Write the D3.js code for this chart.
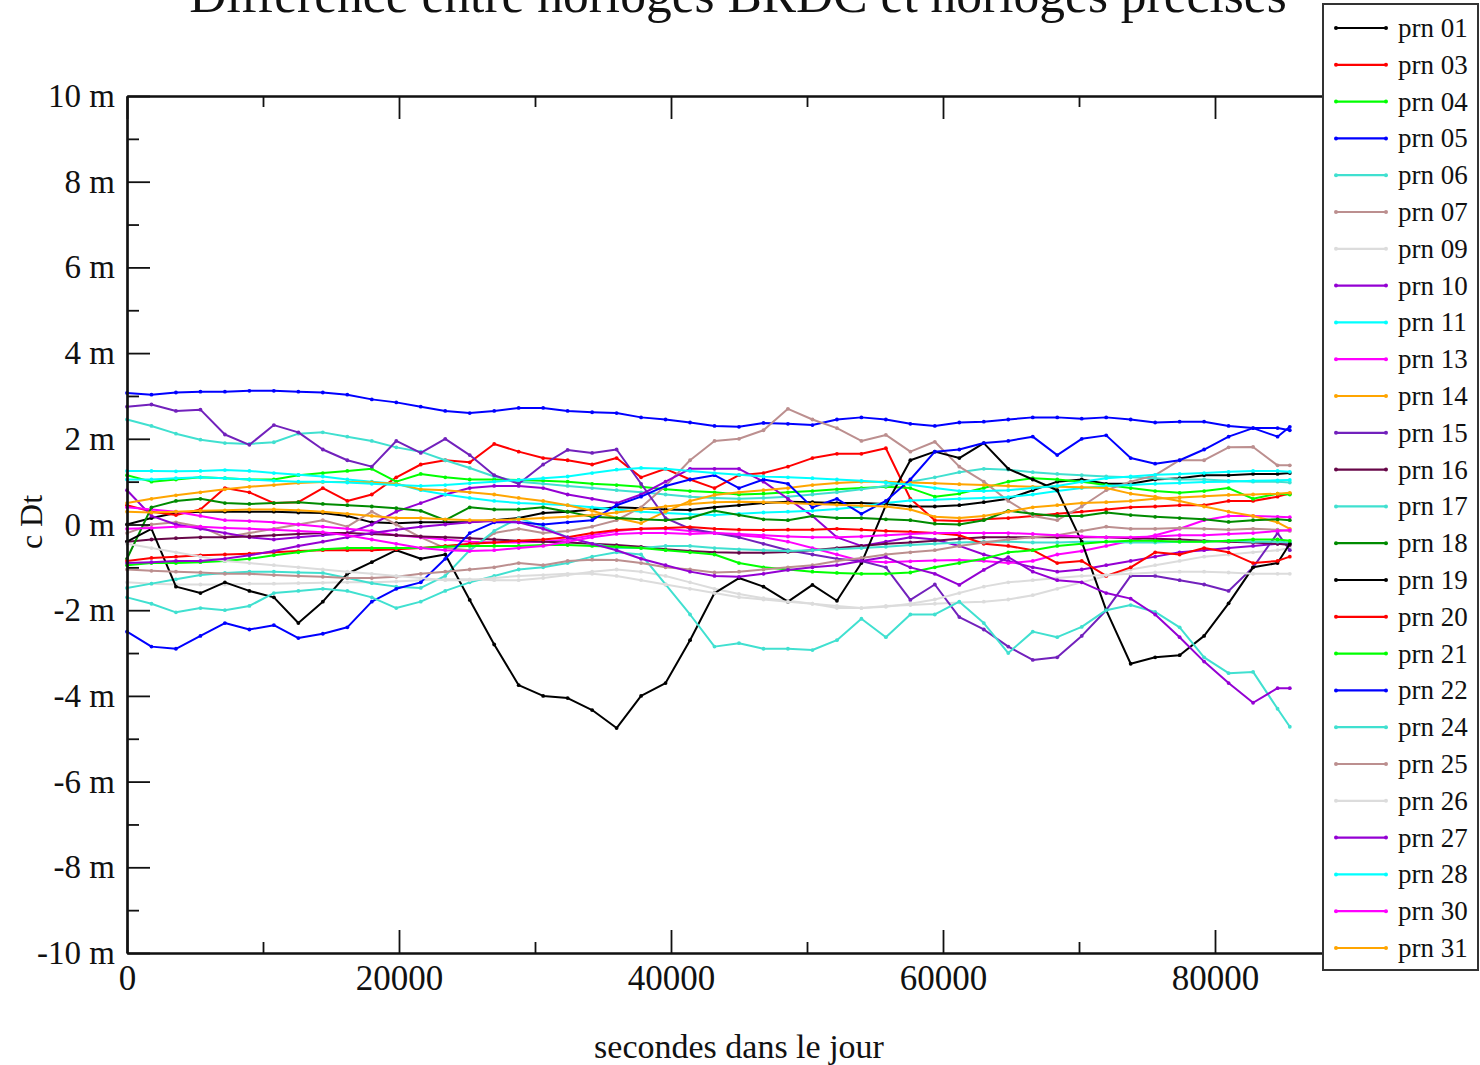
<!DOCTYPE html>
<html>
<head>
<meta charset="utf-8">
<script src="https://cdn.jsdelivr.net/npm/d3@7"></script>
<style>
  html, body { margin: 0; padding: 0; background: #fff; }
  svg { display: block; }
  text { font-family: "Liberation Serif", "Times New Roman", serif; fill: #111; }
</style>
</head>
<body>
<svg id="chart" width="1480" height="1065"></svg>
<script>
// Epochs (seconds of day), one sample every 30 minutes, last epoch at 23:45
const epochs = d3.range(0, 86400, 1800).concat([85500]);

// c·Δt (metres) per satellite, broadcast clock minus precise clock
const prn01 = [0.00, 0.15, 0.27, 0.30, 0.30, 0.30, 0.30, 0.28, 0.27, 0.20, 0.05, 0.03, 0.05, 0.05, 0.06, 0.10, 0.15, 0.27, 0.30, 0.35, 0.40, 0.38, 0.35, 0.34, 0.40, 0.45, 0.50, 0.53, 0.52, 0.50, 0.50, 0.48, 0.42, 0.42, 0.45, 0.52, 0.60, 0.80, 1.00, 1.05, 0.95, 0.95, 1.05, 1.08, 1.15, 1.15, 1.18, 1.18, 1.20];
const prn03 = [0.45, 0.30, 0.22, 0.35, 0.85, 0.75, 0.50, 0.52, 0.85, 0.55, 0.70, 1.10, 1.40, 1.50, 1.45, 1.88, 1.70, 1.55, 1.50, 1.40, 1.55, 1.10, 1.30, 1.05, 0.85, 1.15, 1.20, 1.35, 1.55, 1.65, 1.65, 1.78, 0.60, 0.10, 0.08, 0.12, 0.15, 0.20, 0.25, 0.30, 0.35, 0.40, 0.42, 0.45, 0.45, 0.55, 0.55, 0.65, 0.72];
const prn04 = [1.15, 1.00, 1.05, 1.10, 1.08, 1.05, 1.05, 1.15, 1.20, 1.25, 1.30, 1.00, 1.18, 1.10, 1.05, 1.05, 1.04, 1.02, 1.00, 0.95, 0.92, 0.88, 0.82, 0.78, 0.75, 0.70, 0.72, 0.75, 0.78, 0.82, 0.85, 0.88, 0.85, 0.65, 0.72, 0.85, 1.00, 1.08, 1.05, 1.00, 0.92, 0.85, 0.78, 0.74, 0.78, 0.85, 0.60, 0.72, 0.70];
const prn05 = [3.07, 3.03, 3.08, 3.10, 3.10, 3.12, 3.12, 3.10, 3.08, 3.03, 2.92, 2.85, 2.75, 2.65, 2.60, 2.65, 2.72, 2.72, 2.65, 2.62, 2.60, 2.50, 2.45, 2.38, 2.30, 2.28, 2.37, 2.35, 2.32, 2.45, 2.50, 2.45, 2.35, 2.30, 2.38, 2.40, 2.45, 2.50, 2.50, 2.47, 2.50, 2.45, 2.38, 2.40, 2.40, 2.30, 2.25, 2.25, 2.20];
const prn06 = [2.45, 2.30, 2.12, 1.98, 1.90, 1.88, 1.92, 2.12, 2.15, 2.05, 1.95, 1.80, 1.70, 1.50, 1.32, 1.12, 1.00, 0.95, 0.90, 0.85, 0.80, 0.75, 0.70, 0.65, 0.62, 0.60, 0.62, 0.65, 0.70, 0.75, 0.82, 0.90, 1.00, 1.10, 1.22, 1.30, 1.28, 1.22, 1.18, 1.15, 1.12, 1.10, 1.08, 1.05, 1.05, 1.02, 1.00, 1.00, 0.98];
const prn07 = [-0.20, 0.00, 0.05, -0.05, -0.30, -0.20, -0.10, 0.00, 0.10, -0.05, 0.30, 0.00, -0.30, -0.55, -0.60, -0.20, -0.10, -0.20, -0.15, -0.05, 0.10, 0.40, 0.90, 1.50, 1.95, 2.00, 2.20, 2.70, 2.45, 2.25, 1.95, 2.09, 1.70, 1.93, 1.35, 1.00, 0.55, 0.20, 0.10, 0.42, 0.80, 1.00, 1.15, 1.50, 1.50, 1.80, 1.81, 1.38, 1.38];
const prn09 = [-1.35, -1.38, -1.40, -1.40, -1.40, -1.38, -1.38, -1.37, -1.36, -1.35, -1.35, -1.33, -1.30, -1.28, -1.28, -1.30, -1.30, -1.25, -1.18, -1.10, -1.05, -1.10, -1.20, -1.35, -1.50, -1.62, -1.72, -1.78, -1.85, -1.95, -1.95, -1.90, -1.88, -1.85, -1.82, -1.80, -1.75, -1.65, -1.50, -1.35, -1.20, -1.05, -0.95, -0.85, -0.75, -0.70, -0.65, -0.60, -0.55];
const prn10 = [0.80, 0.20, 0.00, -0.10, -0.20, -0.30, -0.35, -0.30, -0.25, -0.20, 0.00, 0.30, 0.50, 0.70, 0.85, 0.90, 0.90, 0.85, 0.70, 0.60, 0.50, 0.70, 1.00, 1.30, 1.30, 1.30, 1.00, 0.60, 0.20, -0.30, -0.50, -0.40, -0.30, -0.35, -0.50, -0.70, -0.85, -1.00, -1.10, -1.05, -0.95, -0.85, -0.75, -0.65, -0.60, -0.55, -0.50, -0.45, -0.45];
const prn11 = [1.25, 1.25, 1.24, 1.25, 1.27, 1.25, 1.20, 1.16, 1.12, 1.05, 1.00, 0.95, 0.80, 0.70, 0.62, 0.55, 0.50, 0.48, 0.45, 0.40, 0.35, 0.30, 0.27, 0.24, 0.22, 0.25, 0.28, 0.30, 0.32, 0.36, 0.42, 0.50, 0.56, 0.58, 0.60, 0.62, 0.64, 0.70, 0.78, 0.85, 0.90, 0.92, 0.95, 0.97, 0.99, 1.00, 1.02, 1.03, 1.04];
const prn13 = [0.40, 0.35, 0.30, 0.20, 0.10, 0.08, 0.05, 0.00, -0.05, -0.10, -0.15, -0.25, -0.30, -0.35, -0.40, -0.42, -0.42, -0.40, -0.35, -0.25, -0.15, -0.10, -0.10, -0.15, -0.20, -0.25, -0.30, -0.40, -0.55, -0.70, -0.85, -0.88, -0.86, -0.84, -0.83, -0.85, -0.90, -0.85, -0.70, -0.62, -0.50, -0.38, -0.25, -0.10, 0.10, 0.20, 0.20, 0.18, 0.17];
const prn14 = [0.50, 0.60, 0.68, 0.75, 0.82, 0.88, 0.92, 0.97, 0.99, 0.99, 0.98, 0.95, 0.82, 0.80, 0.75, 0.70, 0.62, 0.55, 0.45, 0.32, 0.15, 0.03, 0.30, 0.55, 0.69, 0.75, 0.80, 0.85, 0.92, 0.97, 1.00, 1.00, 0.98, 0.96, 0.94, 0.92, 0.90, 0.88, 0.88, 0.87, 0.85, 0.72, 0.65, 0.55, 0.42, 0.30, 0.20, 0.05, -0.10];
const prn15 = [2.75, 2.80, 2.65, 2.68, 2.10, 1.86, 2.32, 2.15, 1.75, 1.50, 1.35, 1.95, 1.67, 2.00, 1.62, 1.15, 0.95, 1.40, 1.74, 1.67, 1.75, 0.95, 0.15, -0.10, -0.20, -0.30, -0.45, -0.60, -0.70, -0.80, -0.85, -1.00, -1.76, -1.40, -2.16, -2.45, -2.85, -3.16, -3.10, -2.60, -2.00, -1.20, -1.20, -1.30, -1.40, -1.55, -1.00, -0.20, -0.60];
const prn16 = [-0.40, -0.35, -0.32, -0.30, -0.30, -0.28, -0.25, -0.22, -0.20, -0.20, -0.22, -0.25, -0.28, -0.30, -0.32, -0.35, -0.38, -0.40, -0.42, -0.45, -0.48, -0.52, -0.58, -0.62, -0.65, -0.66, -0.66, -0.64, -0.60, -0.55, -0.50, -0.45, -0.42, -0.38, -0.33, -0.30, -0.30, -0.30, -0.30, -0.30, -0.30, -0.32, -0.33, -0.35, -0.38, -0.40, -0.42, -0.45, -0.48];
const prn17 = [-1.48, -1.38, -1.28, -1.18, -1.13, -1.10, -1.10, -1.12, -1.13, -1.25, -1.37, -1.45, -1.48, -1.20, -0.60, -0.15, 0.15, -0.05, -0.30, -0.45, -0.55, -0.55, -0.50, -0.50, -0.55, -0.58, -0.60, -0.62, -0.60, -0.58, -0.55, -0.52, -0.48, -0.45, -0.42, -0.40, -0.40, -0.42, -0.42, -0.40, -0.40, -0.42, -0.42, -0.40, -0.40, -0.38, -0.40, -0.40, -0.42];
const prn18 = [-0.80, 0.40, 0.55, 0.60, 0.50, 0.48, 0.50, 0.52, 0.48, 0.45, 0.42, 0.38, 0.32, 0.10, 0.40, 0.35, 0.35, 0.40, 0.30, 0.18, 0.15, 0.12, 0.10, 0.15, 0.32, 0.22, 0.12, 0.10, 0.20, 0.15, 0.15, 0.12, 0.10, 0.02, 0.00, 0.10, 0.32, 0.25, 0.20, 0.20, 0.28, 0.22, 0.18, 0.15, 0.12, 0.06, 0.10, 0.12, 0.10];
const prn19 = [-0.40, -0.10, -1.45, -1.60, -1.35, -1.55, -1.70, -2.30, -1.80, -1.15, -0.88, -0.60, -0.80, -0.70, -1.76, -2.80, -3.75, -4.00, -4.05, -4.33, -4.75, -4.00, -3.70, -2.70, -1.60, -1.25, -1.45, -1.80, -1.41, -1.78, -0.90, 0.45, 1.50, 1.70, 1.55, 1.90, 1.30, 1.05, 0.80, -0.40, -2.00, -3.25, -3.10, -3.05, -2.60, -1.84, -1.00, -0.90, -0.45];
const prn20 = [-0.85, -0.78, -0.75, -0.72, -0.70, -0.68, -0.65, -0.62, -0.60, -0.60, -0.60, -0.58, -0.55, -0.50, -0.45, -0.42, -0.38, -0.35, -0.30, -0.20, -0.13, -0.10, -0.08, -0.06, -0.10, -0.12, -0.13, -0.12, -0.12, -0.10, -0.12, -0.15, -0.17, -0.20, -0.25, -0.45, -0.50, -0.60, -0.90, -0.85, -1.20, -1.00, -0.65, -0.70, -0.55, -0.65, -0.90, -0.85, -0.75];
const prn21 = [-0.95, -0.90, -0.90, -0.88, -0.85, -0.80, -0.72, -0.65, -0.58, -0.55, -0.55, -0.55, -0.55, -0.52, -0.50, -0.50, -0.50, -0.48, -0.48, -0.50, -0.52, -0.55, -0.60, -0.65, -0.70, -0.90, -1.00, -1.05, -1.10, -1.13, -1.15, -1.15, -1.12, -1.00, -0.90, -0.80, -0.65, -0.60, -0.50, -0.45, -0.40, -0.38, -0.38, -0.40, -0.40, -0.38, -0.35, -0.35, -0.38];
const prn22 = [-2.50, -2.85, -2.90, -2.60, -2.30, -2.45, -2.35, -2.65, -2.55, -2.40, -1.80, -1.50, -1.35, -0.80, -0.20, 0.05, 0.05, 0.00, 0.05, 0.10, 0.45, 0.65, 0.90, 1.05, 1.15, 0.85, 1.05, 0.95, 0.40, 0.60, 0.25, 0.55, 1.05, 1.70, 1.75, 1.90, 1.95, 2.05, 1.62, 2.00, 2.08, 1.55, 1.42, 1.50, 1.75, 2.05, 2.25, 2.05, 2.28];
const prn24 = [-1.70, -1.85, -2.05, -1.95, -2.00, -1.90, -1.60, -1.55, -1.50, -1.55, -1.70, -1.95, -1.80, -1.55, -1.35, -1.20, -1.05, -1.00, -0.90, -0.75, -0.65, -0.70, -1.40, -2.10, -2.85, -2.77, -2.90, -2.90, -2.93, -2.70, -2.20, -2.63, -2.10, -2.10, -1.80, -2.30, -3.00, -2.50, -2.63, -2.39, -2.00, -1.88, -2.04, -2.40, -3.10, -3.47, -3.44, -4.30, -4.72];
const prn25 = [-1.05, -1.08, -1.10, -1.12, -1.15, -1.15, -1.18, -1.20, -1.22, -1.25, -1.25, -1.22, -1.15, -1.10, -1.05, -1.00, -0.90, -0.95, -0.85, -0.82, -0.83, -0.90, -1.00, -1.05, -1.12, -1.10, -1.05, -1.00, -0.95, -0.85, -0.78, -0.70, -0.65, -0.60, -0.50, -0.42, -0.35, -0.30, -0.25, -0.15, -0.05, -0.10, -0.10, -0.08, -0.10, -0.12, -0.10, -0.12, -0.15];
const prn26 = [-0.45, -0.55, -0.65, -0.75, -0.85, -0.90, -0.95, -1.00, -1.05, -1.10, -1.15, -1.20, -1.25, -1.30, -1.30, -1.25, -1.20, -1.18, -1.15, -1.15, -1.20, -1.30, -1.40, -1.50, -1.60, -1.70, -1.75, -1.80, -1.85, -1.90, -1.95, -1.92, -1.85, -1.75, -1.60, -1.45, -1.35, -1.30, -1.25, -1.20, -1.18, -1.15, -1.12, -1.10, -1.10, -1.12, -1.15, -1.15, -1.15];
const prn27 = [-0.90, -0.88, -0.85, -0.85, -0.80, -0.72, -0.62, -0.50, -0.40, -0.30, -0.20, -0.12, -0.05, 0.00, 0.05, 0.08, 0.05, -0.10, -0.30, -0.45, -0.60, -0.80, -0.95, -1.10, -1.20, -1.22, -1.15, -1.06, -1.00, -0.95, -0.85, -0.76, -1.00, -1.15, -1.41, -1.06, -0.76, -1.10, -1.30, -1.35, -1.60, -1.73, -2.10, -2.63, -3.20, -3.70, -4.16, -3.82, -3.82];
const prn28 = [1.05, 1.05, 1.08, 1.10, 1.08, 1.05, 1.02, 1.00, 1.00, 0.98, 0.95, 0.92, 0.90, 0.92, 0.96, 1.00, 1.04, 1.08, 1.12, 1.20, 1.28, 1.32, 1.30, 1.25, 1.20, 1.16, 1.12, 1.10, 1.08, 1.05, 1.02, 0.98, 0.93, 0.85, 0.78, 0.78, 0.80, 0.85, 0.90, 1.00, 1.08, 1.12, 1.16, 1.18, 1.20, 1.23, 1.25, 1.25, 1.23];
const prn30 = [-0.10, -0.08, -0.05, -0.05, -0.08, -0.10, -0.12, -0.15, -0.18, -0.25, -0.35, -0.45, -0.55, -0.60, -0.62, -0.60, -0.55, -0.50, -0.40, -0.30, -0.22, -0.20, -0.20, -0.22, -0.20, -0.22, -0.25, -0.28, -0.30, -0.30, -0.28, -0.25, -0.22, -0.20, -0.20, -0.20, -0.20, -0.22, -0.25, -0.28, -0.30, -0.30, -0.28, -0.25, -0.25, -0.22, -0.20, -0.15, -0.13];
const prn31 = [0.30, 0.28, 0.30, 0.32, 0.33, 0.35, 0.35, 0.33, 0.30, 0.25, 0.20, 0.15, 0.15, 0.12, 0.10, 0.10, 0.12, 0.15, 0.18, 0.22, 0.28, 0.35, 0.42, 0.48, 0.52, 0.53, 0.52, 0.50, 0.48, 0.46, 0.44, 0.42, 0.35, 0.18, 0.15, 0.20, 0.30, 0.40, 0.45, 0.50, 0.52, 0.55, 0.60, 0.63, 0.66, 0.69, 0.70, 0.72, 0.74];

const prnLabels = ["prn 01", "prn 03", "prn 04", "prn 05", "prn 06", "prn 07", "prn 09", "prn 10", "prn 11",
  "prn 13", "prn 14", "prn 15", "prn 16", "prn 17", "prn 18", "prn 19", "prn 20", "prn 21", "prn 22",
  "prn 24", "prn 25", "prn 26", "prn 27", "prn 28", "prn 30", "prn 31"];
const prnValues = [prn01, prn03, prn04, prn05, prn06, prn07, prn09, prn10, prn11,
  prn13, prn14, prn15, prn16, prn17, prn18, prn19, prn20, prn21, prn22,
  prn24, prn25, prn26, prn27, prn28, prn30, prn31];
const prnColors = ["#000000", "#ff0000", "#00ff00", "#0000ff", "#40e0d0", "#bc8f8f", "#dcdcdc", "#9400d3", "#00ffff",
  "#ff00ff", "#ffa500", "#7221bc", "#670748", "#40e0d0", "#008b00", "#000000", "#ff0000", "#00ff00", "#0000ff",
  "#40e0d0", "#bc8f8f", "#dcdcdc", "#9400d3", "#00ffff", "#ff00ff", "#ffa500"];

const xMajor = [0, 20000, 40000, 60000, 80000];
const xMinor = [10000, 30000, 50000, 70000];
const yMajor = [-10, -8, -6, -4, -2, 0, 2, 4, 6, 8, 10];
const yMinor = [-9, -7, -5, -3, -1, 1, 3, 5, 7, 9];

prnValues.forEach((v, i) => {
  if (v.length !== epochs.length) throw new Error(prnLabels[i] + " has " + v.length + " values");
});

const svg = d3.select("#chart");
const plotLeft = 127, plotRight = 1323.8, plotTop = 96, plotBottom = 953;

const x = d3.scaleLinear().domain([0, 88000]).range([plotLeft, plotRight]);
const y = d3.scaleLinear().domain([-10, 10]).range([plotBottom, plotTop]);

// title, its upper part running past the top edge of the page
svg.append("text")
  .attr("x", 738).attr("y", 12)
  .attr("text-anchor", "middle")
  .style("font-size", "51.5px")
  .text("Différence entre horloges BRDC et horloges précises");

// series
const line = d3.line().x((d, i) => x(epochs[i])).y(d => y(d));
const plot = svg.append("g");
prnValues.forEach((vals, k) => {
  const g = plot.append("g");
  g.append("path")
    .attr("d", line(vals))
    .attr("fill", "none")
    .attr("stroke", prnColors[k])
    .attr("stroke-width", 2)
    .attr("stroke-linejoin", "round");
  g.selectAll("circle").data(vals).join("circle")
    .attr("cx", (d, i) => x(epochs[i]))
    .attr("cy", d => y(d))
    .attr("r", 1.9)
    .attr("fill", prnColors[k]);
});

// axes with inward ticks
function styleAxis(g) {
  g.selectAll("path.domain").attr("stroke", "#111").attr("stroke-width", 2.2);
  g.selectAll(".tick line").attr("stroke", "#111").attr("stroke-width", 1.8);
  g.selectAll("text").style("font-family", '"Liberation Serif", "Times New Roman", serif').attr("fill", "#111");
}

svg.append("g").attr("transform", `translate(0,${plotBottom})`)
  .call(d3.axisBottom(x).tickValues(xMinor).tickSize(-11).tickSizeOuter(0).tickFormat(""))
  .call(styleAxis);
svg.append("g").attr("transform", `translate(0,${plotBottom})`)
  .call(d3.axisBottom(x).tickValues(xMajor).tickSize(-23).tickSizeOuter(0).tickPadding(12).tickFormat(d3.format("d")))
  .call(styleAxis)
  .call(g => g.selectAll("text").style("font-size", "35px"));

svg.append("g").attr("transform", `translate(0,${plotTop})`)
  .call(d3.axisTop(x).tickValues(xMinor).tickSize(-11).tickSizeOuter(0).tickFormat(""))
  .call(styleAxis);
svg.append("g").attr("transform", `translate(0,${plotTop})`)
  .call(d3.axisTop(x).tickValues(xMajor).tickSize(-23).tickSizeOuter(0).tickFormat(""))
  .call(styleAxis);

svg.append("g").attr("transform", `translate(${plotLeft},0)`)
  .call(d3.axisLeft(y).tickValues(yMinor).tickSize(-12).tickSizeOuter(0).tickFormat(""))
  .call(styleAxis);
svg.append("g").attr("transform", `translate(${plotLeft},0)`)
  .call(d3.axisLeft(y).tickValues(yMajor).tickSize(-23).tickSizeOuter(0).tickPadding(12).tickFormat(d => d + " m"))
  .call(styleAxis)
  .call(g => g.selectAll("text").style("font-size", "33px"));

// axis titles
svg.append("text")
  .attr("x", 739).attr("y", 1058)
  .attr("text-anchor", "middle")
  .style("font-size", "34px")
  .text("secondes dans le jour");
svg.append("text")
  .attr("transform", "translate(42,522) rotate(-90)")
  .attr("text-anchor", "middle")
  .style("font-size", "32px")
  .text("c Dt");

// legend
const legend = svg.append("g");
legend.append("rect")
  .attr("x", 1323).attr("y", 4).attr("width", 155).attr("height", 966)
  .attr("fill", "#fff").attr("stroke", "#333").attr("stroke-width", 2);
const legY = d3.scaleLinear().domain([0, prnLabels.length - 1]).range([28, 948]);
prnLabels.forEach((lab, k) => {
  const ly = legY(k);
  const e = legend.append("g");
  e.append("line")
    .attr("x1", 1336).attr("x2", 1386).attr("y1", ly).attr("y2", ly)
    .attr("stroke", prnColors[k]).attr("stroke-width", 2.2);
  [1336, 1386].forEach(cx => e.append("circle").attr("cx", cx).attr("cy", ly).attr("r", 2).attr("fill", prnColors[k]));
  e.append("text")
    .attr("x", 1398).attr("y", ly + 9)
    .style("font-size", "27px")
    .text(lab);
});
</script>
</body>
</html>
